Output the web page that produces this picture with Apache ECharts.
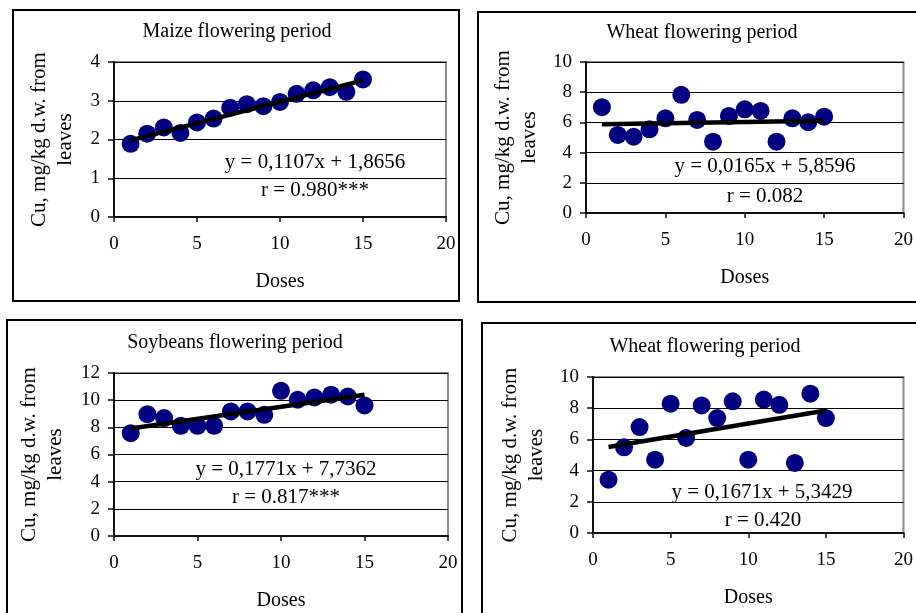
<!DOCTYPE html>
<html>
<head>
<meta charset="utf-8">
<script src="https://cdn.jsdelivr.net/npm/echarts@6/dist/echarts.min.js"></script>
<style>
  html, body { margin: 0; padding: 0; background: #fff; }
  #chart { width: 916px; height: 613px; }
</style>
</head>
<body>
<div id="chart"></div>
<script>
// doses 1..15
const doses = [1, 2, 3, 4, 5, 6, 7, 8, 9, 10, 11, 12, 13, 14, 15];

// Cu in leaves
const maizeCu = [1.89, 2.15, 2.31, 2.17, 2.44, 2.54, 2.82, 2.91, 2.86, 2.97, 3.18, 3.27, 3.35, 3.23, 3.55];
const wheatCu1 = [7.01, 5.17, 5.05, 5.54, 6.27, 7.83, 6.16, 4.72, 6.43, 6.87, 6.76, 4.72, 6.27, 6.01, 6.38];
const soyCu = [7.57, 8.97, 8.68, 8.11, 8.11, 8.11, 9.17, 9.17, 8.92, 10.69, 10.03, 10.2, 10.4, 10.27, 9.61];
const wheatCu2 = [3.42, 5.49, 6.79, 4.7, 8.29, 6.09, 8.18, 7.37, 8.44, 4.7, 8.55, 8.22, 4.49, 8.93, 7.37];

// trend lines as printed on the panels
const slopes = [0.1107, 0.0165, 0.1771, 0.1671];
const intercepts = [1.8656, 5.8596, 7.7362, 5.3429];
const equations = ['y = 0,1107x + 1,8656', 'y = 0,0165x + 5,8596', 'y = 0,1771x + 7,7362', 'y = 0,1671x + 5,3429'];
const rTexts = ['r = 0.980***', 'r = 0.082', 'r = 0.817***', 'r = 0.420'];
const titles = ['Maize flowering period', 'Wheat flowering period', 'Soybeans flowering period', 'Wheat flowering period'];
const yMax = [4, 10, 12, 10];
const yStep = [1, 2, 2, 2];

const seriesValues = [maizeCu, wheatCu1, soyCu, wheatCu2];
const FONT = '"Liberation Serif", "Times New Roman", serif';

// layout of each panel (pixels)
const panels = [
  { grid: { left: 114, top: 62, width: 332, height: 155 }, box: [13, 10, 446, 291], title: [237, 32], eq: [315, 162], r: [315, 190], nameGap: 36 },
  { grid: { left: 586, top: 62, width: 323, height: 151 }, box: [478, 12, 460, 290], title: [702, 33], eq: [765, 166], r: [765, 196], nameGap: 44 },
  { grid: { left: 114, top: 373, width: 334, height: 163 }, box: [7, 320, 455, 310], title: [235, 343], eq: [286, 469], r: [286, 497], nameGap: 46 },
  { grid: { left: 593, top: 377, width: 322, height: 156 }, box: [482, 323, 460, 310], title: [705, 347], eq: [762, 492], r: [763, 520], nameGap: 44 }
];

const chart = echarts.init(document.getElementById('chart'), null, { renderer: 'canvas' });

const grids = [], xAxes = [], yAxes = [], series = [], graphics = [];

panels.forEach((p, i) => {
  grids.push(Object.assign({
    show: true,
    borderColor: '#8c8c8c',
    borderWidth: 2,
    backgroundColor: '#fff'
  }, p.grid));

  xAxes.push({
    gridIndex: i,
    type: 'value',
    min: 0,
    max: 20,
    interval: 5,
    name: 'Doses',
    nameLocation: 'middle',
    nameGap: 55,
    nameTextStyle: { fontFamily: FONT, fontSize: 20, color: '#000' },
    axisLine: { lineStyle: { color: '#111', width: 2 } },
    axisTick: { show: true, length: 5, lineStyle: { color: '#111', width: 1.5 } },
    axisLabel: { fontFamily: FONT, fontSize: 19, color: '#000', margin: 18 },
    splitLine: { show: false }
  });

  yAxes.push({
    gridIndex: i,
    type: 'value',
    min: 0,
    max: yMax[i],
    interval: yStep[i],
    name: 'Cu, mg/kg d.w. from\nleaves',
    nameLocation: 'middle',
    nameRotate: 90,
    nameGap: p.nameGap,
    nameTextStyle: { fontFamily: FONT, fontSize: 21, color: '#000', lineHeight: 26, align: 'center' },
    axisLine: { show: true, lineStyle: { color: '#111', width: 2 } },
    axisTick: { show: true, length: 6, lineStyle: { color: '#111', width: 1.5 } },
    axisLabel: { fontFamily: FONT, fontSize: 19, color: '#000', margin: 14 },
    splitLine: { show: true, lineStyle: { color: '#000', width: 1.2 } }
  });

  series.push({
    type: 'scatter',
    xAxisIndex: i,
    yAxisIndex: i,
    symbol: 'circle',
    symbolSize: 18,
    itemStyle: { color: '#000080', opacity: 1 },
    data: doses.map((d, k) => [d, seriesValues[i][k]]),
    z: 2
  });

  series.push({
    type: 'line',
    xAxisIndex: i,
    yAxisIndex: i,
    symbol: 'none',
    lineStyle: { color: '#000', width: 4.5 },
    data: [doses[0], doses[doses.length - 1]].map(d => [d, slopes[i] * d + intercepts[i]]),
    z: 3,
    silent: true
  });

  graphics.push({
    type: 'rect',
    shape: { x: p.box[0], y: p.box[1], width: p.box[2], height: p.box[3] },
    style: { fill: null, stroke: '#000', lineWidth: 2 },
    z: -10
  });
  graphics.push({
    type: 'text', x: p.title[0], y: p.title[1],
    style: { text: titles[i], font: '20px ' + FONT, fill: '#000', align: 'center', verticalAlign: 'middle' },
    z: 10
  });
  graphics.push({
    type: 'text', x: p.eq[0], y: p.eq[1],
    style: { text: equations[i], font: '21px ' + FONT, fill: '#000', align: 'center', verticalAlign: 'middle' },
    z: 10
  });
  graphics.push({
    type: 'text', x: p.r[0], y: p.r[1],
    style: { text: rTexts[i], font: '21px ' + FONT, fill: '#000', align: 'center', verticalAlign: 'middle' },
    z: 10
  });
});

chart.setOption({
  backgroundColor: '#fff',
  animation: false,
  grid: grids,
  xAxis: xAxes,
  yAxis: yAxes,
  series: series,
  graphic: graphics
});
</script>
</body>
</html>
